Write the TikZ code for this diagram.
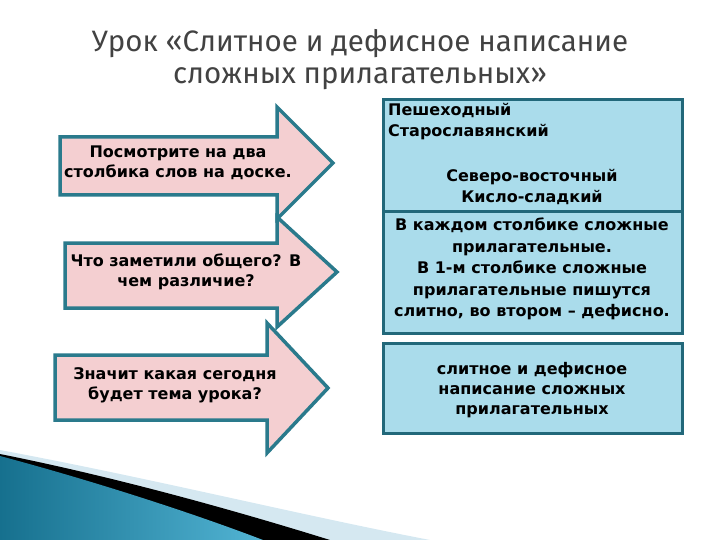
\documentclass[tikz,border=0pt]{standalone}
\usepackage{fontspec}
\setmainfont{Fira Sans}
\newfontfamily\bodyfont{DejaVu Sans}
\usetikzlibrary{positioning}
\definecolor{arrowedge}{HTML}{2A7A8C}
\definecolor{arrowfill}{HTML}{F4CFD1}
\definecolor{boxedge}{HTML}{22687A}
\definecolor{boxfill}{HTML}{AADCEB}
\definecolor{titlegray}{HTML}{424242}
\definecolor{swooshdark}{HTML}{16708E}
\definecolor{swooshlight}{HTML}{52B4D4}
\definecolor{swooshpale}{HTML}{D5E8F1}

\begin{document}
\begin{tikzpicture}[x=1pt, y=-1pt,
  pinkarrow/.style={draw=arrowedge, fill=arrowfill, line width=3.5pt, line join=miter},
  bluebox/.style={draw=boxedge, fill=boxfill, line width=3pt},
  armtext/.style={font=\bodyfont\bfseries\fontsize{16}{20}\selectfont, align=center},
  boxtext/.style={font=\bodyfont\bfseries\fontsize{16}{21.5}\selectfont, align=center},
  title/.style={font=\fontsize{29.5}{32}\selectfont, text=titlegray, align=center}
]
\useasboundingbox (0,0) rectangle (720,540);

% Title
\node[title] (heading) at (360,60)
  {Урок «Слитное и дефисное написание\\сложных прилагательных»};

% Bottom-left swoosh
\fill[swooshpale] (0,450) .. controls (150,478) and (300,515) .. (430,540) -- (0,540) -- cycle;
\fill[black] (0,454) .. controls (120,478) and (240,512) .. (330,540) -- (0,540) -- cycle;
\shade[left color=swooshdark, right color=swooshlight]
  (0,456) .. controls (90,480) and (190,512) .. (263,540) -- (0,540) -- cycle;

% Arrows (bottom one first)
\draw[pinkarrow] (55,355) -- (267,355) -- (267,323) -- (328,388) -- (267,453) -- (267,420) -- (55,420) -- cycle;
\draw[pinkarrow] (65,243) -- (277,243) -- (277,217) -- (337,272) -- (277,327) -- (277,308) -- (65,308) -- cycle;
\draw[pinkarrow] (60,137) -- (277,137) -- (277,107) -- (333,163) -- (277,219) -- (277,195) -- (60,195) -- cycle;

\node[armtext] (look)  at (178,163) {Посмотрите на два\\столбика слов на доске.};
\node[armtext] (alike) at (186,272) {Что заметили общего? В\\чем различие?};
\node[armtext] (topic) at (175,385) {Значит какая сегодня\\будет тема урока?};

% Boxes on the right
\draw[bluebox] (383,100) rectangle (682,212);
\draw[bluebox] (383,212) rectangle (682,333);
\draw[bluebox] (383,343) rectangle (682,433);

\node[boxtext, align=left, anchor=north west, inner sep=0pt] (solid) at (388,103)
  {Пешеходный\\Старославянский};
\node[boxtext] (hyphen) at (532,187) {Северо-восточный\\Кисло-сладкий};
\node[boxtext] (answer) at (532,269)
  {В каждом столбике сложные\\прилагательные.\\В 1-м столбике сложные\\прилагательные пишутся\\слитно, во втором – дефисно.};
\node[boxtext, font=\bodyfont\bfseries\fontsize{16}{20}\selectfont] (theme) at (532,390)
  {слитное и дефисное\\написание сложных\\прилагательных};

\end{tikzpicture}
\end{document}
